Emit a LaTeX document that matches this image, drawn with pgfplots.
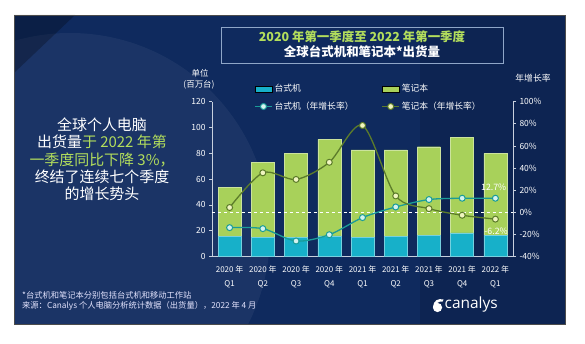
\documentclass[border=0pt]{standalone}
\usepackage{pgfplots}
\pgfplotsset{compat=1.18}
\usepackage{fontspec}
\setmainfont{Noto Sans CJK SC}
\newfontfamily\logofont{Open Sans}
\definecolor{panel}{HTML}{0F2A5E}
\definecolor{deskbar}{HTML}{17B0C9}
\definecolor{notebar}{HTML}{A8D15A}
\definecolor{deskline}{HTML}{1A9C98}
\definecolor{noteline}{HTML}{5C7C2A}
\definecolor{deskmark}{HTML}{D5F3F0}
\definecolor{notemark}{HTML}{F0F5C0}
\definecolor{titlegreen}{HTML}{B3DE5C}
\definecolor{axisgray}{HTML}{C8D0DE}
\definecolor{boxline}{HTML}{8FA6C8}
\begin{document}
\begin{tikzpicture}
\begin{scope}[x=1bp,y=1bp]
\useasboundingbox (0,0) rectangle (585,343);
\fill[white] (0,0) rectangle (585,343);
\fill[panel] (14,19) rectangle (565,328);
\begin{scope}
\clip (14,19) rectangle (565,328);
\fill[white,opacity=0.05] (70,110) circle (200);
\fill[black,opacity=0.25] (14,328) -- (75,328) -- (14,270) -- cycle;
\fill[black,opacity=0.12] (420,19) rectangle (565,328);
\end{scope}
\draw[black!70,line width=0.8] (14,19) rectangle (565,328);
\draw[boxline, line width=0.6] (221,280) rectangle (503,316);
\node[text=titlegreen, font=\fontsize{12.5}{14}\selectfont\bfseries] at (362,306.3) {2020 年第一季度至 2022 年第一季度};
\node[text=white, font=\fontsize{12.5}{14}\selectfont\bfseries] at (362,291.3) {全球台式机和笔记本*出货量};
% left text block
\node[text=white, align=center, anchor=north, font=\fontsize{15}{17.2}\selectfont] at (102,228.5)
 {全球个人电脑\\出货量\textcolor{titlegreen}{于 2022 年第}\\\textcolor{titlegreen}{一季度同比下降 3\%，}\\终结了连续七个季度\\的增长势头};
% axis captions
\node[text=white, font=\fontsize{8.5}{10}\selectfont] at (200,269.7) {单位};
\node[text=white, font=\fontsize{8.5}{10}\selectfont] at (199,258.7) {(百万台)};
\node[text=white, font=\fontsize{8.8}{10}\selectfont] at (533,265) {年增长率};
% footer
\node[text=white!90!blue, anchor=west, font=\fontsize{8.3}{10}\selectfont, inner sep=0] at (22,48) {*台式机和笔记本分别包括台式机和移动工作站};
\node[text=white!90!blue, anchor=west, font=\fontsize{8.3}{10}\selectfont, inner sep=0] at (22,37) {来源：Canalys 个人电脑分析统计数据（出货量），2022 年 4 月};
% logo
\fill[white] (437.5,35.5) circle (4.6);
\fill[white] (433,36) .. controls (433.5,42.5) and (438,45) .. (443.5,43.5) -- (442.5,41.5) .. controls (438.5,42) and (436.5,40) .. (435.5,36) -- cycle;
\node[text=white, anchor=west, inner sep=0, font=\logofont\fontsize{15.5}{16}\selectfont] at (444.5,39) {canalys};
\end{scope}

\begin{axis}[at={(212bp,86.5bp)}, anchor=south west, scale only axis,
  width=301bp, height=154.8bp,
  xmin=-0.53, xmax=8.53, ymin=0, ymax=120,
  ybar stacked, bar width=23bp,
  axis x line*=bottom, axis y line*=left,
  axis line style={axisgray, line width=0.7bp},
  ytick={0,20,...,120}, xtick={0,...,8},
  xticklabels={{2020 年\\Q1},{2020 年\\Q2},{2020 年\\Q3},{2020 年\\Q4},{2021 年\\Q1},{2021 年\\Q2},{2021 年\\Q3},{2021 年\\Q4},{2022 年\\Q1}},
  x tick label style={align=center, text=white, font=\fontsize{8}{14}\selectfont, yshift=-3bp},
  y tick label style={text=white, font=\fontsize{8.5}{10}\selectfont},
  tick align=outside, major tick length=3bp,
  ytick style={axisgray, line width=0.7bp},
  xtick style={draw=none},
  /pgf/number format/assume math mode=true,
  clip=false,
]
\addplot[fill=deskbar, draw=deskbar!60!white, line width=0.4bp] coordinates {(0,15.5) (1,14.6) (2,15.0) (3,16.0) (4,14.9) (5,15.4) (6,16.2) (7,18.4) (8,16.3)};
\addplot[fill=notebar, draw=notebar!60!white, line width=0.4bp] coordinates {(0,38.0) (1,58.4) (2,65.0) (3,74.8) (4,67.7) (5,67.2) (6,68.9) (7,73.7) (8,63.7)};
\end{axis}

\begin{axis}[at={(212bp,86.5bp)}, anchor=south west, scale only axis,
  width=301bp, height=154.8bp,
  xmin=-0.53, xmax=8.53, ymin=-40, ymax=100,
  axis x line=none, axis y line*=right,
  axis line style={axisgray, line width=0.7bp},
  ytick={-40,-20,...,100},
  yticklabel={\pgfmathprintnumber{\tick}\%},
  y tick label style={text=white, font=\fontsize{8.5}{10}\selectfont},
  tick align=outside, major tick length=3bp,
  ytick style={axisgray, line width=0.7bp},
  /pgf/number format/assume math mode=true,
  clip=false,
  legend columns=2,
  legend cell align=left,
  legend style={draw=none, fill=none, text=white, font=\fontsize{8.8}{10}\selectfont,
    at={(rel axis cs:0.13,1.138)}, anchor=north west, row sep=4.6bp,
    /tikz/every even column/.append style={column sep=26bp}},
]
\addlegendimage{area legend, fill=deskbar, draw=none}
\addlegendentry{台式机}
\addlegendimage{area legend, fill=notebar, draw=none}
\addlegendentry{笔记本}
\draw[white, dashed, line width=0.8bp] (axis cs:-0.53,0) -- (axis cs:8.53,0);
\addplot[deskline, line width=1.3bp, smooth, mark=*, mark size=3bp, mark options={fill=deskmark, draw=deskline, line width=1bp}] coordinates {(0,-13.9) (1,-14.8) (2,-26.0) (3,-20.3) (4,-4.8) (5,4.8) (6,11.5) (7,12.7) (8,12.7)};
\addlegendentry{台式机（年增长率）}
\addplot[noteline, line width=1.3bp, smooth, mark=*, mark size=3bp, mark options={fill=notemark, draw=noteline, line width=1bp}] coordinates {(0,4.3) (1,35.7) (2,29.7) (3,45.2) (4,78.5) (5,14.8) (6,3.3) (7,-2.7) (8,-6.2)};
\addlegendentry{笔记本（年增长率）}
\node[text=white, font=\fontsize{8.8}{10}\selectfont] at (axis cs:7.95,22.5) {12.7\%};
\node[text=white, font=\fontsize{8.8}{10}\selectfont] at (axis cs:8.02,-17.3) {-6.2\%};
\end{axis}
\end{tikzpicture}
\end{document}
